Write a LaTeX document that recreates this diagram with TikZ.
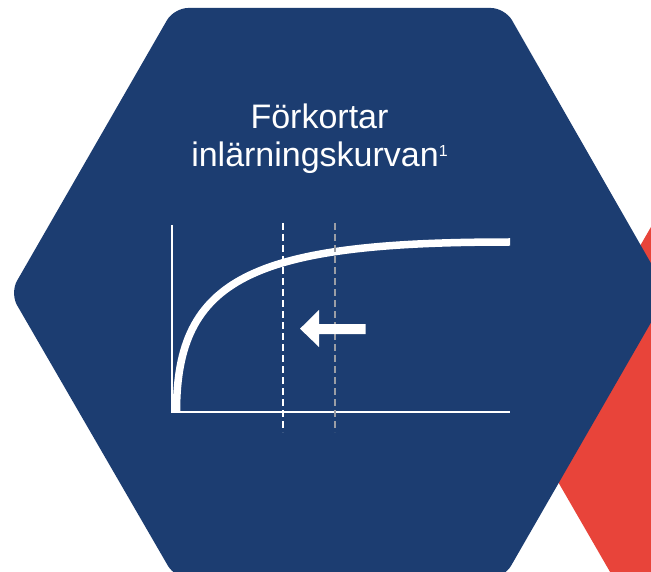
\documentclass[tikz,border=0pt]{standalone}
\usepackage{fontspec}
\setmainfont{Liberation Sans}
\definecolor{hexblue}{RGB}{28,61,113}
\definecolor{hexred}{RGB}{232,68,58}
\definecolor{dashgray}{RGB}{155,158,165}
\begin{document}
\begin{tikzpicture}[x=1pt,y=-1pt,
  titletext/.style={text=white,font=\fontsize{34}{38}\selectfont,anchor=base,inner sep=0pt},
  axisline/.style={draw=white,line width=2pt},
  guide/.style={line width=2pt,dash pattern=on 7pt off 4pt}]
\useasboundingbox (0,0) rectangle (651,572);
\clip (0,0) rectangle (651,572);
\fill[white] (0,0) rectangle (651,572);
% red hexagon behind
\fill[hexred] (531,435) -- (700,142) -- (800,142) -- (800,700) -- (684,700) -- cycle;
% blue hexagon
\fill[hexblue,rounded corners=14pt] (174,8) -- (505,8) -- (668,293) -- (504,578) -- (175,578) -- (10,293) -- cycle;
% title
\node[titletext] (t1) at (319.5,128.3) {Förkortar};
\node[titletext] (t2) at (319.5,166.7) {inlärningskurvan\raisebox{10pt}{\fontsize{16}{16}\selectfont 1}};
% axes
\coordinate (o) at (172,411.5);
\coordinate (ytop) at (172,225);
\coordinate (xend) at (510,411.5);
\draw[axisline] (ytop) -- (172,412.5);
\draw[axisline] (171,411.5) -- (xend);
% curve
\coordinate (cs) at (176.5,412);
\coordinate (ce) at (510,242);
\draw[white,line width=7.5pt] (cs) .. controls (176.5,278) and (252,242) .. (ce);
% guides
\coordinate (g1a) at (283,223);
\coordinate (g1b) at (283,432);
\coordinate (g2a) at (334.5,223);
\coordinate (g2b) at (334.5,432);
\draw[guide,white] (g1a) -- (g1b);
\draw[guide,dashgray] (g2a) -- (g2b);
% arrow
\fill[white] (300,328.7) -- (319,310) -- (319,324) -- (365.5,324) -- (365.5,334.2) -- (319,334.2) -- (319,347) -- cycle;
\end{tikzpicture}
\end{document}
